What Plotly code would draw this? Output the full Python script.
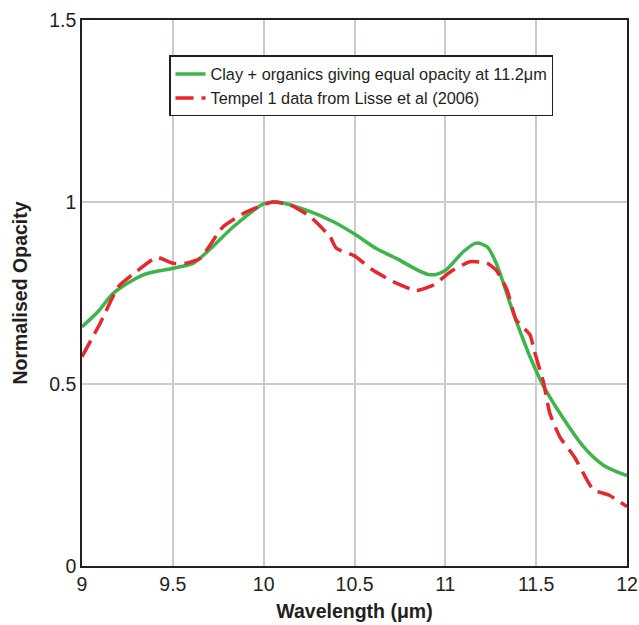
import plotly.graph_objects as go

# Clay + organics model (green)
model_x = [9.0, 9.09, 9.172, 9.337, 9.503, 9.613, 9.70, 9.833, 10.0, 10.07, 10.25, 10.387, 10.5, 10.62,
           10.73, 10.915, 11.0, 11.10, 11.17, 11.23, 11.28, 11.375, 11.466, 11.54, 11.65, 11.76,
           11.87, 12.0]
model_y = [0.657, 0.70, 0.749, 0.80, 0.818, 0.832, 0.868, 0.932, 0.995, 1.0, 0.975, 0.945, 0.912, 0.872,
           0.845, 0.80, 0.812, 0.864, 0.887, 0.877, 0.832, 0.694, 0.575, 0.495, 0.405, 0.328,
           0.277, 0.248]

# Tempel 1 data (red dashed)
data_x = [9.0, 9.10, 9.20, 9.30, 9.41, 9.50, 9.576, 9.65, 9.777, 9.906, 10.05, 10.145, 10.255, 10.365,
          10.40, 10.5, 10.60, 10.73, 10.84, 10.935, 11.03, 11.135, 11.23, 11.28, 11.34, 11.39,
          11.466, 11.49, 11.54, 11.575, 11.63, 11.71, 11.78, 11.815, 11.9, 12.0]
data_y = [0.575, 0.667, 0.767, 0.809, 0.848, 0.832, 0.832, 0.845, 0.932, 0.973, 1.0, 0.992, 0.96, 0.905,
          0.873, 0.852, 0.813, 0.777, 0.757, 0.772, 0.809, 0.836, 0.832, 0.813, 0.758, 0.676,
          0.635, 0.59, 0.505, 0.42, 0.355, 0.30, 0.236, 0.209, 0.195, 0.163]

x_ticks = [9, 9.5, 10, 10.5, 11, 11.5, 12]
x_tick_labels = ["9", "9.5", "10", "10.5", "11", "11.5", "12"]
y_ticks = [0, 0.5, 1, 1.5]
y_tick_labels = ["0", "0.5", "1", "1.5"]

series_names = ["Clay + organics giving equal opacity at 11.2\u03bcm",
                "Tempel 1 data from Lisse et al (2006)"]

fig = go.Figure()
fig.add_trace(go.Scatter(x=model_x, y=model_y, mode="lines", name=series_names[0],
                         line=dict(color="#3db54a", width=3.5, shape="spline", smoothing=0.8)))
fig.add_trace(go.Scatter(x=data_x, y=data_y, mode="lines", name=series_names[1],
                         line=dict(color="#e8262d", width=3.5, shape="spline", smoothing=0.5,
                                   dash="18px,8px")))

fig.update_layout(
    width=639, height=625,
    margin=dict(l=82, r=12, t=20, b=59),
    paper_bgcolor="white", plot_bgcolor="white",
    font=dict(family="Liberation Sans, Arial, sans-serif", color="#231f20"),
    showlegend=True,
    legend=dict(x=0.16, y=0.935, xanchor="left", yanchor="top",
                bgcolor="white", bordercolor="#231f20", borderwidth=1.3,
                font=dict(size=16.3), tracegroupgap=0, itemwidth=30),
    xaxis=dict(range=[9, 12], tickvals=x_ticks, ticktext=x_tick_labels,
               showgrid=True, gridcolor="#c8ccd2", gridwidth=1.5,
               showline=True, linecolor="#231f20", linewidth=1.5, mirror=True,
               ticks="", tickfont=dict(size=19.5), zeroline=False, automargin=False,
               title=dict(text="<b>Wavelength (\u03bcm)</b>", font=dict(size=19.5), standoff=10)),
    yaxis=dict(range=[0, 1.5], tickvals=y_ticks, ticktext=y_tick_labels,
               showgrid=True, gridcolor="#c8ccd2", gridwidth=1.5,
               showline=True, linecolor="#231f20", linewidth=1.5, mirror=True,
               ticks="", tickfont=dict(size=19.5), zeroline=False, automargin=False,
               title=dict(text="<b>Normalised Opacity</b>", font=dict(size=19.5), standoff=16)),
)

fig.write_html("out.html",
               config={"displayModeBar": False},
               post_script="document.body.style.margin='0';"
                           "document.documentElement.style.overflow='hidden';")
